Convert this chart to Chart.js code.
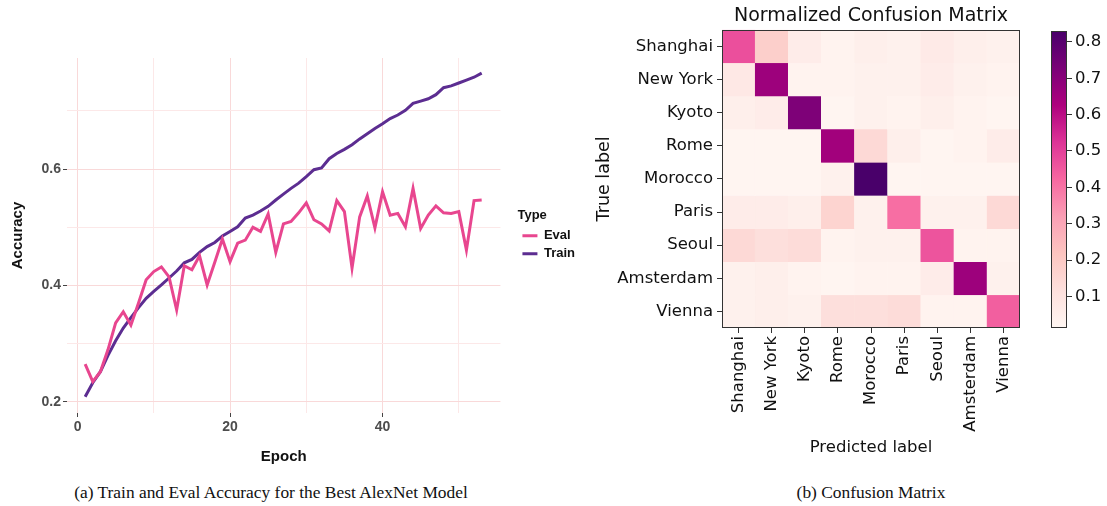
<!DOCTYPE html>
<html>
<head>
<meta charset="utf-8">
<script src="https://cdn.jsdelivr.net/npm/chart.js@4.4.0/dist/chart.umd.min.js"></script>
<style>
  body { margin: 0; width: 1107px; height: 506px; background: #fff; position: relative; overflow: hidden; }
  canvas { position: absolute; }
  .cap { position: absolute; top: 482px; font-family: "Liberation Serif", serif; font-size: 17.4px; color: #111; white-space: nowrap; transform: translateX(-50%); }
</style>
</head>
<body>
<canvas id="acc" width="585" height="430" style="left:0;top:40px"></canvas>
<canvas id="cm" width="446" height="470" style="left:594px;top:0"></canvas>
<canvas id="cbar" width="67" height="470" style="left:1040px;top:0"></canvas>
<div class="cap" style="left:271px">(a) Train and Eval Accuracy for the Best AlexNet Model</div>
<div class="cap" style="left:871px">(b) Confusion Matrix</div>
<script>
// left panel: accuracy per epoch
var epochs = [1,2,3,4,5,6,7,8,9,10,11,12,13,14,15,16,17,18,19,20,21,22,23,24,25,26,27,
              28,29,30,31,32,33,34,35,36,37,38,39,40,41,42,43,44,45,46,47,48,49,50,51,52,53];
var evalAcc = [0.265,0.235,0.252,0.290,0.336,0.355,0.332,0.370,0.410,0.424,0.432,0.415,0.358,
               0.434,0.427,0.451,0.401,0.440,0.480,0.441,0.473,0.478,0.500,0.493,0.523,0.457,
               0.506,0.510,0.525,0.542,0.513,0.506,0.494,0.546,0.527,0.430,0.518,0.554,0.499,
               0.561,0.521,0.524,0.501,0.567,0.498,0.521,0.537,0.525,0.524,0.527,0.461,0.546,0.547];
var trainAcc = [0.209,0.233,0.252,0.280,0.305,0.327,0.345,0.362,0.378,0.390,0.401,0.413,0.425,
                0.439,0.445,0.457,0.467,0.474,0.485,0.493,0.501,0.516,0.521,0.528,0.536,0.547,
                0.557,0.567,0.576,0.587,0.599,0.602,0.618,0.627,0.634,0.642,0.652,0.661,0.670,
                0.678,0.687,0.693,0.701,0.713,0.717,0.721,0.728,0.740,0.743,0.748,0.753,0.758,0.765];
var xTicks = [0,10,20,30,40,50];
var xLabels = [0,20,40];
var yTicks = [0.2,0.3,0.4,0.5,0.6,0.7];
var yLabels = [0.2,0.4,0.6];

// right panel: normalized confusion matrix (rows = true label)
var cities = ['Shanghai','New York','Kyoto','Rome','Morocco','Paris','Seoul','Amsterdam','Vienna'];
var matrix = [
  [0.47,0.18,0.06,0.03,0.05,0.04,0.07,0.05,0.04],
  [0.08,0.66,0.03,0.03,0.04,0.04,0.06,0.04,0.03],
  [0.05,0.06,0.72,0.02,0.04,0.03,0.05,0.03,0.02],
  [0.02,0.02,0.02,0.65,0.14,0.05,0.02,0.03,0.06],
  [0.02,0.02,0.02,0.04,0.83,0.02,0.02,0.02,0.02],
  [0.06,0.06,0.05,0.16,0.04,0.41,0.04,0.04,0.14],
  [0.14,0.12,0.13,0.03,0.04,0.04,0.46,0.03,0.03],
  [0.04,0.05,0.03,0.02,0.03,0.03,0.06,0.66,0.04],
  [0.04,0.05,0.04,0.12,0.12,0.13,0.03,0.03,0.44]
];
var cbTicks = [0.1,0.2,0.3,0.4,0.5,0.6,0.7,0.8];
var cmMin = 0.013, cmMax = 0.83;

var rdpu = ['#fff7f3','#fde0dd','#fcc5c0','#fa9fb5','#f768a1','#dd3497','#ae017e','#7a0177','#49006a'];
function hex(c) { return [1,3,5].map(function(i){ return parseInt(c.substr(i,2),16); }); }
function cmap(v) {
  var t = Math.max(0, Math.min(1, (v - cmMin) / (cmMax - cmMin))) * 8;
  var i = Math.min(7, Math.floor(t)), f = t - i;
  var a = hex(rdpu[i]), b = hex(rdpu[i+1]);
  return 'rgb(' + a.map(function(x,k){ return Math.round(x + (b[k]-x)*f); }).join(',') + ')';
}

var frame = {
  id: 'frame',
  afterDatasetsDraw: function(chart) {
    var a = chart.chartArea, c = chart.ctx;
    c.save();
    c.strokeStyle = '#333'; c.lineWidth = 1;
    c.strokeRect(Math.round(a.left)+0.5, Math.round(a.top)+0.5, Math.round(a.right-a.left)-1, Math.round(a.bottom-a.top)-1);
    c.restore();
  }
};

var gg = { family: 'Liberation Sans', weight: 'bold', size: 14 };
var mpl = { family: 'DejaVu Sans', size: 16.5 };
function gridCol(major) {
  return function(c){ return c.tick && major.indexOf(c.tick.value) >= 0 ? '#f9d9d9' : '#fce8e8'; };
}

new Chart(document.getElementById('acc'), {
  type: 'line',
  data: {
    datasets: [
      { label: 'Eval', data: epochs.map(function(e,i){ return {x:e, y:evalAcc[i]}; }),
        borderColor: '#e8468f', backgroundColor: '#e8468f', borderWidth: 3, pointRadius: 0, tension: 0 },
      { label: 'Train', data: epochs.map(function(e,i){ return {x:e, y:trainAcc[i]}; }),
        borderColor: '#5c2d91', backgroundColor: '#5c2d91', borderWidth: 3, pointRadius: 0, tension: 0 }
    ]
  },
  options: {
    responsive: false, animation: false,
    layout: { padding: { top: 18, right: 0 } },
    plugins: {
      tooltip: { enabled: false },
      legend: {
        position: 'right', fullSize: false,
        title: { display: true, text: 'Type', position: 'start', color: '#111', font: { family: 'Liberation Sans', weight: 'bold', size: 13 }, padding: { top: 3, bottom: 0 } },
        labels: { usePointStyle: true, pointStyle: 'line', pointStyleWidth: 15, boxHeight: 10, color: '#111',
                  font: { family: 'Liberation Sans', weight: 'bold', size: 13 }, padding: 5 }
      }
    },
    scales: {
      x: {
        type: 'linear', min: -1.38, max: 55.46,
        afterBuildTicks: function(s){ s.ticks = xTicks.map(function(v){ return {value:v}; }); },
        afterFit: function(s){ s.height = 57; },
        ticks: { color: '#4d4d4d', font: gg, padding: 2,
                 callback: function(v){ return xLabels.indexOf(v) >= 0 ? String(v) : ''; } },
        grid: { color: gridCol(xLabels), tickLength: 4,
                tickColor: function(c){ return c.tick && xLabels.indexOf(c.tick.value) >= 0 ? '#444' : 'rgba(0,0,0,0)'; } },
        border: { display: false },
        title: { display: true, text: 'Epoch', color: '#111', font: { family: 'Liberation Sans', weight: 'bold', size: 15 }, padding: { top: 6 } }
      },
      y: {
        min: 0.181, max: 0.791,
        afterBuildTicks: function(s){ s.ticks = yTicks.map(function(v){ return {value:v}; }); },
        afterFit: function(s){ s.width = 67; },
        ticks: { color: '#4d4d4d', font: gg, padding: 2,
                 callback: function(v){ return yLabels.indexOf(v) >= 0 ? v.toFixed(1) : ''; } },
        grid: { color: gridCol(yLabels), tickLength: 4,
                tickColor: function(c){ return c.tick && yLabels.indexOf(c.tick.value) >= 0 ? '#444' : 'rgba(0,0,0,0)'; } },
        border: { display: false },
        title: { display: true, text: 'Accuracy', color: '#111', font: { family: 'Liberation Sans', weight: 'bold', size: 15 }, padding: { top: 9, bottom: 4 } }
      },
      // empty right axis: only keeps a gap between the panel and the legend
      gap: {
        position: 'right', display: true,
        afterFit: function(s){ s.width = 17; },
        ticks: { display: false }, grid: { display: false }, border: { display: false }
      }
    }
  }
});

new Chart(document.getElementById('cm'), {
  type: 'bar',
  data: {
    labels: cities,
    datasets: matrix.map(function(row, r) {
      return { label: cities[r], data: row.map(function(){ return [r, r+1]; }),
               backgroundColor: row.map(cmap), borderColor: row.map(cmap), borderWidth: 0.5 };
    })
  },
  options: {
    responsive: false, animation: false,
    layout: { padding: { right: 20 } },
    datasets: { bar: { grouped: false, barPercentage: 1, categoryPercentage: 1, borderSkipped: false } },
    plugins: {
      legend: { display: false }, tooltip: { enabled: false },
      title: { display: true, text: 'Normalized Confusion Matrix', fullSize: false, color: '#111',
               font: { family: 'DejaVu Sans', size: 19, weight: 'normal' }, padding: { top: 5, bottom: 2 } }
    },
    scales: {
      x: {
        afterFit: function(s){ s.height = 142; },
        ticks: { minRotation: 90, maxRotation: 90, autoSkip: false, color: '#111', font: mpl, padding: 3 },
        grid: { offset: false, drawOnChartArea: false, tickLength: 5, tickColor: '#333' },
        border: { display: false },
        title: { display: true, text: 'Predicted label', color: '#111', font: mpl, padding: { top: 6, bottom: 12 } }
      },
      y: {
        min: 0, max: 9, reverse: true,
        afterBuildTicks: function(s){ s.ticks = cities.map(function(c,i){ return {value: i + 0.5}; }); },
        afterFit: function(s){ s.width = 128; },
        ticks: { color: '#111', font: mpl, padding: 4, callback: function(v){ return cities[Math.floor(v)]; } },
        grid: { drawOnChartArea: false, tickLength: 5, tickColor: '#333' },
        border: { display: false },
        title: { display: true, text: 'True label', color: '#111', font: { family: 'DejaVu Sans', size: 17.5 }, padding: { top: 0, bottom: 4 } }
      }
    }
  },
  plugins: [frame]
});

new Chart(document.getElementById('cbar'), {
  type: 'bar',
  data: {
    labels: [''],
    datasets: [{
      data: [[cmMin, cmMax]], barPercentage: 1, categoryPercentage: 1,
      backgroundColor: function(c) {
        var a = c.chart.chartArea;
        if (!a) return rdpu[4];
        var g = c.chart.ctx.createLinearGradient(0, a.bottom, 0, a.top);
        rdpu.forEach(function(col, i){ g.addColorStop(i / 8, col); });
        return g;
      }
    }]
  },
  options: {
    responsive: false, animation: false,
    layout: { padding: { left: 11, top: 31, bottom: 142 } },
    plugins: { legend: { display: false }, tooltip: { enabled: false } },
    scales: {
      x: { display: false },
      y: {
        position: 'right', min: cmMin, max: cmMax,
        afterBuildTicks: function(s){ s.ticks = cbTicks.map(function(v){ return {value:v}; }); },
        afterFit: function(s){ s.width = 40; },
        ticks: { color: '#111', font: mpl, padding: 3, callback: function(v){ return v.toFixed(1); } },
        grid: { drawOnChartArea: false, tickLength: 5, tickColor: '#333' },
        border: { display: false }
      }
    }
  },
  plugins: [frame]
});
</script>
</body>
</html>
